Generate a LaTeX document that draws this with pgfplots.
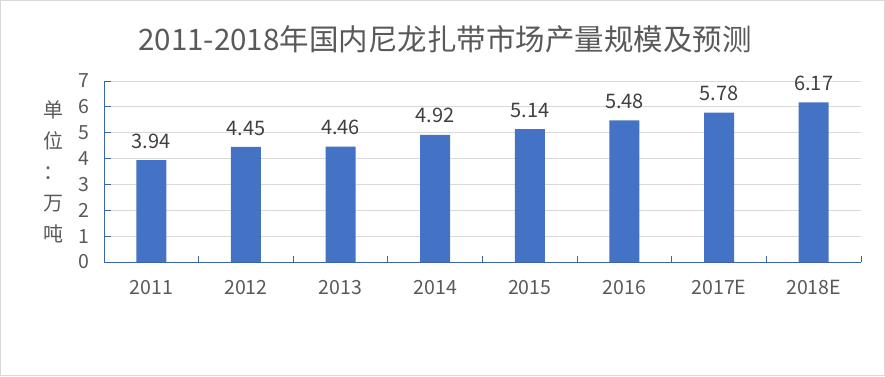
\documentclass[border=0pt]{standalone}
\usepackage{pgfplots}
\pgfplotsset{compat=1.18}
\usepackage{fontspec}
\setmainfont{Noto Sans CJK SC}
\definecolor{barblue}{HTML}{4472C4}
\definecolor{axblue}{HTML}{3A64B0}
\definecolor{txt}{HTML}{595959}
\definecolor{lbl}{HTML}{404040}
\definecolor{gridc}{HTML}{D9D9D9}
\begin{document}
\begin{tikzpicture}
\path (0,0) rectangle (885pt,376pt);
\draw[gridc, line width=1pt] (0.5pt,0.5pt) rectangle (884.5pt,375.5pt);
\node[text=txt, font=\fontsize{29.5}{31}\selectfont] at (445pt,337pt) {2011-2018年国内尼龙扎带市场产量规模及预测};
\begin{axis}[
  at={(104pt,114pt)}, anchor=south west,
  scale only axis, width=757pt, height=181pt,
  xmin=-0.5, xmax=7.5, ymin=0, ymax=7,
  axis x line*=bottom, axis y line*=left,
  axis line style={axblue, line width=1pt},
  ytick={0,...,7},
  ymajorgrids, grid style={gridc, line width=1pt},
  xtick={0,...,7},
  xticklabels={2011,2012,2013,2014,2015,2016,2017E,2018E},
  minor xtick={0.5,1.5,...,7.5},
  tick align=inside,
  major tick length=7pt, minor tick length=6pt,
  every major x tick/.append style={draw=none},
  every tick/.append style={axblue, line width=1pt},
  every minor x tick/.append style={axblue, line width=1pt},
  /pgf/number format/assume math mode=true,
  ticklabel style={text=txt, font=\fontsize{19.5}{21}\selectfont},
  yticklabel style={xshift=-11pt},
  xticklabel style={yshift=-15pt},
  ylabel={单\\位\\：\\万\\吨},
  ylabel style={rotate=-90, align=center, text=txt, font=\fontsize{20}{31}\selectfont,
    at={(axis description cs:-0.067,0.5)}, anchor=center},
  nodes near coords={\pgfmathprintnumber[fixed,fixed zerofill,precision=2]{\pgfplotspointmeta}},
  every node near coord/.append style={text=lbl, font=\fontsize{20}{22}\selectfont, yshift=8pt},
]
\addplot[ybar, bar width=30pt, fill=barblue, draw=none] coordinates {
(0,3.94) (1,4.45) (2,4.46) (3,4.92) (4,5.14) (5,5.48) (6,5.78) (7,6.17)};
\end{axis}
\end{tikzpicture}
\end{document}
